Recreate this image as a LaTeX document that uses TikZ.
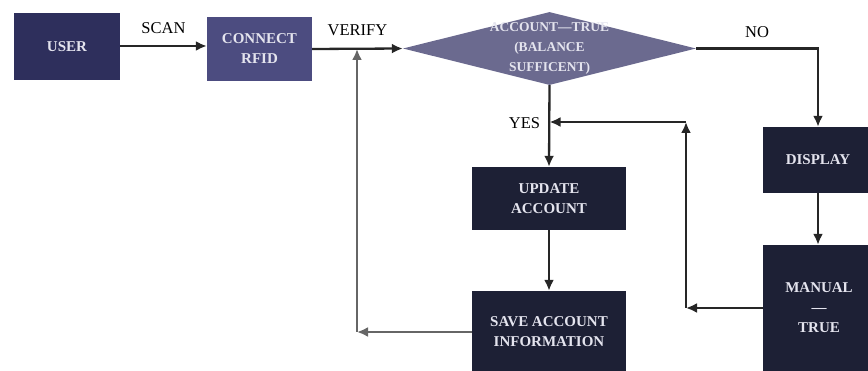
\documentclass[tikz,border=0pt]{standalone}
\usepackage{fontspec}
\setmainfont{Liberation Serif}
\usetikzlibrary{shapes.geometric,arrows.meta}
\definecolor{userfill}{HTML}{2E2F5C}
\definecolor{rfidfill}{HTML}{4C4C80}
\definecolor{checkfill}{HTML}{6B6A8F}
\definecolor{boxfill}{HTML}{1D2035}
\definecolor{boxtext}{HTML}{E4E4EE}
\begin{document}
\begin{tikzpicture}[x=1pt,y=-1pt,
  box/.style={fill=boxfill,text=boxtext,align=center,inner sep=0pt,
    font=\bfseries\fontsize{15}{20}\selectfont},
  decision/.style={diamond,aspect=4,fill=checkfill,inner sep=0pt,
    minimum width=293pt,minimum height=73pt,
    label={[text=boxtext,align=center,font=\bfseries\fontsize{13.5}{20}\selectfont]center:#1}},
  flow/.style={line width=2.3pt,draw=black!85,-{Latex[length=11pt,width=10pt]}},
  backflow/.style={flow,draw=black!60},
  lbl/.style={font=\fontsize{16.5}{19}\selectfont,inner sep=0pt}]
\path[use as bounding box,clip] (0,0) rectangle (868,371);
% top row
\node[box,fill=userfill,minimum width=106pt,minimum height=67pt] (user) at (67,46.5) {USER};
\node[box,fill=rfidfill,minimum width=105pt,minimum height=64pt] (rfid) at (259.5,49) {CONNECT\\RFID};
\node[decision={ACCOUNT—TRUE\\(BALANCE\\SUFFICENT)}] (check) at (549.5,48.5) {};
% middle column
\node[box,minimum width=154pt,minimum height=63pt] (update) at (549,198.5) {UPDATE\\ACCOUNT};
\node[box,minimum width=154pt,minimum height=82pt] (save) at (549,332) {SAVE ACCOUNT\\INFORMATION};
% right column
\node[box,minimum width=110pt,minimum height=66pt] (display) at (818,160) {DISPLAY};
\node[box,minimum width=112pt,minimum height=126pt] (manual) at (819,308) {MANUAL\\—\\TRUE};
% corners of the loops
\coordinate (upjoin) at (686,122);
\coordinate (backx) at (357,330);
% connectors
\draw[flow] (user.east |- 0,46) -- node[lbl,above=11pt] {SCAN} (rfid.west |- 0,46);
\draw[flow] (rfid.east) -- node[lbl,above=12pt] {VERIFY} (check.west);
\draw[flow] (check.east) -| node[lbl,pos=0.25,above=10pt] {NO} (display.north);
\draw[flow] (check.south) -- node[lbl,pos=0.46,left=8pt] {YES} (update.north);
\draw[flow] (update.south) -- (save.north);
\draw[flow] (display.south) -- (display.south |- manual.north);
\draw[flow] (manual.west) -- (manual.west -| upjoin);
\draw[flow] (manual.west -| upjoin) -- (upjoin);
\draw[flow] (upjoin) -- (check.south |- upjoin);
\draw[backflow] (save.west) -- (save.west -| backx);
\draw[backflow] (save.west -| backx) -- (backx |- rfid.east);
\end{tikzpicture}
\end{document}
